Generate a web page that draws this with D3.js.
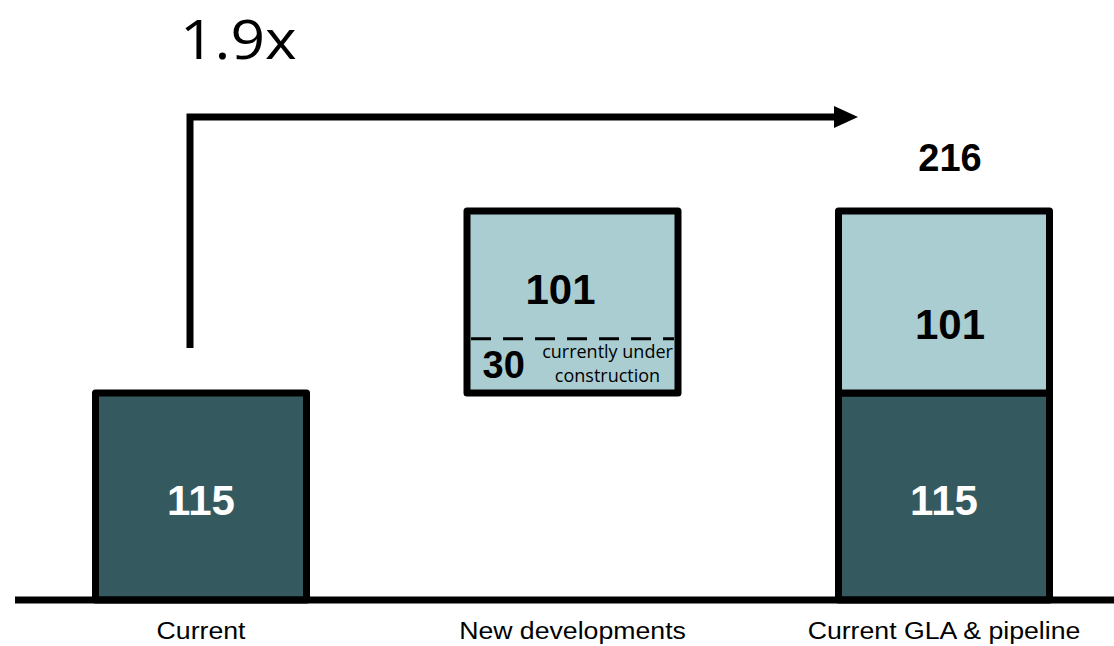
<!DOCTYPE html>
<meta charset="utf-8">
<style>
body { margin: 0; background: #fff; }
text { font-family: "Liberation Sans", Arial, sans-serif; }
.big { font-weight: bold; font-size: 42px; }
</style>
<svg width="1114" height="646"></svg>
<script src="https://cdnjs.cloudflare.com/ajax/libs/d3/7.8.5/d3.min.js"></script>
<script>

var categories = ["Current", "New developments", "Current GLA & pipeline"];
var current = 115;
var newDev = 101;
var underConstruction = 30;
var total = 216;
var multiple = "1.9x";

var svg = d3.select("svg");

var x = d3.scalePoint().domain(categories).range([201, 944]);
var y = d3.scaleLinear().domain([0, total]).range([600, 211]);
var barW = 211;

var dark = "#345a5f", light = "#aacdd2";

// segments: category, from, to, colour, label offsets
var segs = [
  {cat: categories[0], y0: 0, y1: current, fill: dark, label: current, color: "#fff", dx: 0, dy: 19},
  {cat: categories[1], y0: current, y1: current + newDev, fill: light, label: newDev, color: "#000", dx: -12, dy: 0},
  {cat: categories[2], y0: 0, y1: current, fill: dark, label: current, color: "#fff", dx: 0, dy: 19},
  {cat: categories[2], y0: current, y1: total, fill: light, label: newDev, color: "#000", dx: 6, dy: 37}
];

svg.selectAll("rect.bar")
  .data(segs)
  .enter().append("rect")
  .attr("class", "bar")
  .attr("x", function(d) { return x(d.cat) - barW / 2; })
  .attr("y", function(d) { return y(d.y1); })
  .attr("width", barW)
  .attr("height", function(d) { return y(d.y0) - y(d.y1); })
  .attr("fill", function(d) { return d.fill; })
  .attr("stroke", "#000")
  .attr("stroke-width", 7)
  .attr("stroke-linejoin", "round");

// dashed split inside new developments
var yDash = y(current + underConstruction);
svg.append("line")
  .attr("x1", x(categories[1]) - barW / 2 + 4)
  .attr("x2", x(categories[1]) + barW / 2 - 4)
  .attr("y1", yDash).attr("y2", yDash)
  .attr("stroke", "#000")
  .attr("stroke-width", 3)
  .attr("stroke-dasharray", "20,12");

svg.selectAll("text.val")
  .data(segs)
  .enter().append("text")
  .attr("class", "big val")
  .attr("text-anchor", "middle")
  .attr("x", function(d) { return x(d.cat) + d.dx; })
  .attr("y", function(d, i) {
    if (i == 1) return y(d.y1) + 93;
    return (y(d.y0) + y(d.y1)) / 2 + d.dy;
  })
  .attr("fill", function(d) { return d.color; })
  .text(function(d) { return d.label; });

// under construction note
svg.append("text")
  .attr("class", "big")
  .attr("x", x(categories[1]) - 90)
  .attr("y", y(current) - 15)
  .style("font-size", "38px")
  .text(underConstruction);
svg.append("text")
  .attr("x", x(categories[1]) + 35)
  .attr("y", y(current) - 35)
  .attr("text-anchor", "middle")
  .style("font-family", "'Open Sans', sans-serif")
  .style("font-size", "18px")
  .text("currently under");
svg.append("text")
  .attr("x", x(categories[1]) + 35)
  .attr("y", y(current) - 11)
  .attr("text-anchor", "middle")
  .style("font-family", "'Open Sans', sans-serif")
  .style("font-size", "18px")
  .text("construction");

// total label
svg.append("text")
  .attr("class", "big")
  .attr("text-anchor", "middle")
  .attr("x", x(categories[2]) + 6)
  .attr("y", y(total) - 40)
  .style("font-size", "38px")
  .text(total);

// baseline
svg.append("line")
  .attr("x1", 15).attr("x2", 1114)
  .attr("y1", y(0)).attr("y2", y(0))
  .attr("stroke", "#000").attr("stroke-width", 7);

// category labels
svg.selectAll("text.cat")
  .data(categories)
  .enter().append("text")
  .attr("class", "cat")
  .attr("text-anchor", "middle")
  .attr("transform", function(d) { return "translate(" + x(d) + ",639) scale(1.16,1)"; })
  .style("font-size", "23px")
  .text(function(d) { return d; });

// growth arrow
var ax = x(categories[0]) - 11, ay = 117, tip = 858;
svg.append("path")
  .attr("d", "M" + ax + ",348V" + ay + "H" + (tip - 20))
  .attr("fill", "none")
  .attr("stroke", "#000")
  .attr("stroke-width", 7);
svg.append("path")
  .attr("d", "M" + (tip - 24) + "," + (ay - 11) + "L" + tip + "," + ay + "L" + (tip - 24) + "," + (ay + 11) + "Z")
  .attr("fill", "#000");

svg.append("text")
  .attr("transform", "translate(180,59) scale(1.12,1)")
  .style("font-family", "'Open Sans', sans-serif")
  .style("font-size", "54px")
  .text(multiple);

</script>
